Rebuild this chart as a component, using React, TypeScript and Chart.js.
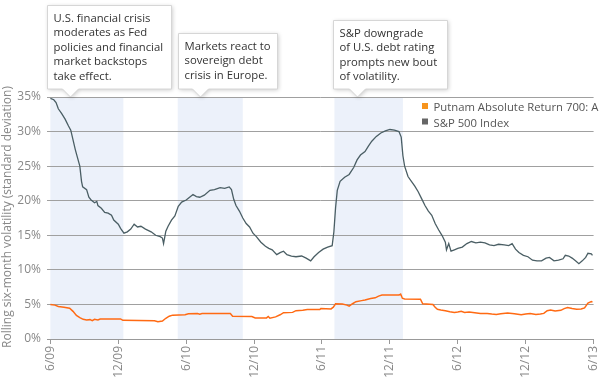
import React, { useEffect, useRef } from "react";
import Chart from "chart.js/auto";

// ---------- data ----------
const tickLabels = ["6/09", "12/09", "6/10", "12/10", "6/11", "12/11", "6/12", "12/12", "6/13"];
const tickMonths = [0, 6, 12, 18, 24, 30, 36, 42, 48];

const seriesNames = ["Putnam Absolute Return 700: A", "S&P 500 Index"];

const spMonths = [0, 0.3, 0.5, 0.7, 1.0, 1.3, 1.6, 1.8, 2.0, 2.2, 2.4, 2.6, 2.75, 2.85, 3.2, 3.4, 3.6, 3.9, 4.1, 4.2, 4.5, 4.8, 5.1, 5.4, 5.6, 6.0, 6.2, 6.5, 6.8, 7.1, 7.4, 7.7, 8.0, 8.4, 8.9, 9.3, 9.7, 9.9, 10.0, 10.2, 10.4, 10.7, 11.0, 11.3, 11.6, 12.0, 12.3, 12.6, 12.9, 13.2, 13.6, 14.1, 14.5, 15.0, 15.4, 15.8, 16.0, 16.2, 16.4, 16.7, 17.0, 17.3, 17.6, 17.9, 18.2, 18.6, 19.0, 19.3, 19.6, 20.0, 20.3, 20.6, 20.9, 21.3, 21.7, 22.2, 22.6, 23.0, 23.3, 23.7, 24.1, 24.5, 24.9, 25.05, 25.2, 25.35, 25.6, 26.0, 26.4, 26.8, 27.1, 27.4, 27.8, 28.1, 28.4, 28.8, 29.2, 29.6, 30.0, 30.4, 30.8, 31.0, 31.15, 31.3, 31.6, 31.9, 32.2, 32.5, 32.8, 33.1, 33.4, 33.7, 34.0, 34.3, 34.6, 34.9, 35.0, 35.2, 35.4, 35.7, 36.0, 36.4, 36.8, 37.2, 37.6, 38.0, 38.4, 38.8, 39.2, 39.6, 40.1, 40.5, 40.8, 41.1, 41.4, 41.8, 42.2, 42.6, 43.0, 43.4, 43.8, 44.1, 44.5, 44.9, 45.3, 45.5, 45.8, 46.1, 46.4, 46.7, 47.0, 47.3, 47.5, 47.8, 47.9];
const spValues = [34.8, 34.6, 34.2, 33.3, 32.6, 31.8, 30.8, 30.2, 28.8, 27.4, 26.2, 25.0, 22.8, 22.0, 21.6, 20.5, 20.1, 19.7, 19.9, 19.3, 18.9, 18.3, 18.2, 17.9, 17.2, 16.6, 16.0, 15.3, 15.5, 15.9, 16.6, 16.2, 16.3, 15.9, 15.5, 15.0, 14.8, 14.6, 13.8, 15.6, 16.3, 17.2, 17.8, 19.2, 19.8, 20.1, 20.5, 20.9, 20.6, 20.5, 20.8, 21.5, 21.6, 21.9, 21.8, 22.0, 21.6, 20.2, 19.3, 18.5, 17.5, 16.7, 16.2, 15.3, 14.8, 14.0, 13.4, 13.1, 12.9, 12.2, 12.5, 12.7, 12.2, 12.0, 11.9, 12.0, 11.7, 11.3, 11.9, 12.5, 13.0, 13.3, 13.5, 15.5, 19.0, 21.5, 22.8, 23.4, 23.8, 24.8, 25.9, 26.6, 27.1, 27.9, 28.6, 29.3, 29.8, 30.1, 30.3, 30.2, 30.0, 29.2, 26.5, 25.0, 23.5, 22.8, 22.1, 21.3, 20.3, 19.3, 18.5, 17.9, 16.7, 15.8, 15.0, 14.0, 12.9, 13.8, 12.7, 12.9, 13.1, 13.3, 13.8, 14.1, 13.9, 14.0, 13.9, 13.6, 13.5, 13.7, 13.6, 13.5, 13.8, 13.0, 12.5, 12.1, 11.9, 11.4, 11.3, 11.3, 11.7, 11.8, 11.3, 11.4, 11.6, 12.1, 12.0, 11.7, 11.3, 10.9, 11.3, 11.8, 12.4, 12.3, 12.1];

const putMonths = [0, 0.4, 0.7, 1.2, 1.7, 2.0, 2.3, 2.6, 2.9, 3.2, 3.5, 3.7, 3.9, 4.2, 4.4, 6.2, 6.4, 9.2, 9.5, 9.9, 10.2, 10.5, 10.8, 11.9, 12.2, 13.0, 13.2, 13.4, 15.9, 16.1, 17.8, 18.1, 19.1, 19.25, 19.4, 19.9, 20.3, 20.6, 21.4, 21.7, 22.3, 22.7, 23.8, 23.9, 24.8, 25.0, 25.2, 25.8, 26.2, 26.4, 26.7, 27.0, 27.5, 27.8, 28.3, 28.7, 29.0, 29.3, 30.8, 30.95, 31.1, 31.3, 32.7, 32.9, 33.8, 34.0, 34.2, 34.5, 34.9, 35.3, 35.7, 36.0, 36.3, 36.6, 37.0, 37.5, 38.0, 38.6, 39.0, 39.4, 39.8, 40.4, 41.0, 41.6, 42.0, 42.4, 42.9, 43.3, 43.6, 43.9, 44.2, 44.6, 45.1, 45.4, 45.7, 46.1, 46.5, 46.9, 47.2, 47.5, 47.8, 47.9];
const putValues = [5.0, 4.9, 4.7, 4.6, 4.45, 4.0, 3.4, 3.1, 2.85, 2.75, 2.8, 2.65, 2.85, 2.75, 2.9, 2.9, 2.7, 2.65, 2.5, 2.6, 3.0, 3.3, 3.45, 3.5, 3.65, 3.7, 3.6, 3.7, 3.7, 3.3, 3.25, 3.05, 3.05, 3.25, 3.0, 3.2, 3.5, 3.8, 3.85, 4.1, 4.15, 4.25, 4.25, 4.4, 4.35, 4.6, 5.1, 5.05, 4.9, 4.75, 5.1, 5.4, 5.55, 5.65, 5.85, 5.95, 6.2, 6.35, 6.35, 6.5, 5.9, 5.8, 5.75, 5.1, 5.0, 4.6, 4.3, 4.2, 4.1, 3.95, 3.85, 3.9, 4.0, 3.85, 3.9, 3.8, 3.7, 3.7, 3.6, 3.55, 3.65, 3.75, 3.65, 3.5, 3.6, 3.7, 3.55, 3.6, 3.7, 4.1, 4.2, 4.05, 4.15, 4.4, 4.55, 4.4, 4.3, 4.35, 4.5, 5.2, 5.4, 5.35];

// shaded periods (months since 6/09)
const bandStarts = [0, 11.25, 25.1];
const bandEnds = [6.45, 17.0, 31.15];

// callouts
const calloutTexts = [
  ["U.S. financial crisis", "moderates as Fed", "policies and financial", "market backstops", "take effect."],
  ["Markets react to", "sovereign debt", "crisis in Europe."],
  ["S&P downgrade", "of U.S. debt rating", "prompts new bout", "of volatility."],
];
const calloutMonths = [1.75, 13.2, 27.1];

const yTitle = "Rolling six-month volatility (standard deviation)";

// ---------- styles ----------
const FONT = '"Open Sans", sans-serif';
const TEXT_SIZE = 11.3;
const ORANGE = "#ff6a13";
const SLATE = "#4a5e64";
const calloutBoxes = [
  { left: -23, right: 101, top: 5 },
  { left: -22, right: 77, top: 33 },
  { left: -24, right: 90, top: 20 },
];

const overlay = {
  id: "overlay",
  beforeDraw(chart: any) {
    const { ctx, chartArea, scales } = chart;
    ctx.save();
    ctx.fillStyle = "#ffffff";
    ctx.fillRect(0, 0, chart.width, chart.height);
    ctx.fillStyle = "#ecf1fa";
    for (let i = 0; i < bandStarts.length; i++) {
      const x1 = scales.x.getPixelForValue(bandStarts[i]);
      const x2 = scales.x.getPixelForValue(bandEnds[i]);
      ctx.fillRect(x1, chartArea.top, x2 - x1, chartArea.bottom - chartArea.top);
    }
    ctx.restore();
  },
  afterDraw(chart: any) {
    const { ctx, chartArea, scales } = chart;
    ctx.save();
    // callouts
    for (let i = 0; i < calloutTexts.length; i++) {
      const px = Math.round(scales.x.getPixelForValue(calloutMonths[i])) + 0.5;
      const b = calloutBoxes[i];
      const lines = calloutTexts[i];
      const tipY = chartArea.top;
      const bottom = tipY - 8;
      const l = px + b.left, r = px + b.right, t = b.top + 0.5;
      ctx.beginPath();
      ctx.moveTo(l, t);
      ctx.lineTo(r, t);
      ctx.lineTo(r, bottom);
      ctx.lineTo(px + 8, bottom);
      ctx.lineTo(px, tipY);
      ctx.lineTo(px - 8, bottom);
      ctx.lineTo(l, bottom);
      ctx.closePath();
      ctx.shadowColor = "rgba(0,0,0,0.22)";
      ctx.shadowBlur = 4;
      ctx.shadowOffsetX = 1;
      ctx.shadowOffsetY = 1;
      ctx.fillStyle = "#ffffff";
      ctx.fill();
      ctx.shadowColor = "transparent";
      ctx.strokeStyle = "#d6d6d6";
      ctx.lineWidth = 1;
      ctx.stroke();
      ctx.fillStyle = "#333333";
      ctx.font = `${TEXT_SIZE}px ${FONT}`;
      ctx.textAlign = "left";
      ctx.textBaseline = "alphabetic";
      lines.forEach((s, k) => ctx.fillText(s, l + 6, b.top + 16.5 + k * 14.6));
    }
    // legend
    const legendColors = ["#f7941d", "#666666"];
    ctx.font = `${TEXT_SIZE}px ${FONT}`;
    ctx.textBaseline = "alphabetic";
    seriesNames.forEach((name, k) => {
      const y = 111 + k * 15.5;
      ctx.fillStyle = legendColors[k];
      ctx.fillRect(422, y - 8, 6, 6);
      ctx.fillStyle = "#555555";
      ctx.fillText(name, 433.5, y);
    });
    // y title
    ctx.translate(8, (chartArea.top + chartArea.bottom) / 2 - 1);
    ctx.rotate(-Math.PI / 2);
    ctx.fillStyle = "#888888";
    ctx.font = `12px ${FONT}`;
    ctx.textAlign = "center";
    ctx.textBaseline = "middle";
    ctx.fillText(yTitle, 0, 0);
    ctx.restore();
  },
};

export default function App() {
  const ref = useRef<HTMLCanvasElement>(null);
  useEffect(() => {
    if (!ref.current) return;
    const chart = new Chart(ref.current, {
      type: "line",
      data: {
        datasets: [
          {
            label: seriesNames[1],
            data: spMonths.map((m, i) => ({ x: m, y: spValues[i] })),
            borderColor: SLATE,
            borderWidth: 1.3,
            pointRadius: 0,
            tension: 0,
          },
          {
            label: seriesNames[0],
            data: putMonths.map((m, i) => ({ x: m, y: putValues[i] })),
            borderColor: ORANGE,
            borderWidth: 1.5,
            pointRadius: 0,
            tension: 0,
          },
        ],
      },
      options: {
        responsive: false,
        animation: false,
        layout: { padding: { top: 97, right: 10, left: 0, bottom: 0 } },
        plugins: { legend: { display: false }, tooltip: { enabled: false } },
        scales: {
          x: {
            type: "linear",
            min: -0.3,
            max: 48,
            afterBuildTicks: (s: any) => {
              s.ticks = tickMonths.map((v) => ({ value: v }));
            },
            afterFit: (s: any) => {
              s.height = 39;
            },
            grid: { drawOnChartArea: false, drawTicks: true, tickLength: 5, color: "#999999" },
            border: { display: true, color: "#999999" },
            ticks: {
              autoSkip: false,
              minRotation: 90,
              maxRotation: 90,
              padding: 2,
              color: "#888888",
              font: { family: FONT, size: 12 },
              callback: (v: any) => {
                const i = tickMonths.indexOf(Number(v));
                return i >= 0 ? tickLabels[i] : "";
              },
            },
          },
          y: {
            min: 0,
            max: 35,
            afterFit: (s: any) => {
              s.width = 47;
            },
            grid: { color: "#a0a0a0", drawTicks: false },
            border: { display: false },
            ticks: {
              stepSize: 5,
              padding: 6,
              color: "#888888",
              font: { family: FONT, size: 12 },
              callback: (v: any) => `${v}%`,
            },
          },
        },
      },
      plugins: [overlay],
    });
    return () => chart.destroy();
  }, []);
  return (
    <div style={{ position: "absolute", left: 0, top: 0, width: 610, height: 378 }}>
      <canvas ref={ref} width={610} height={378} style={{ display: "block" }} />
    </div>
  );
}
